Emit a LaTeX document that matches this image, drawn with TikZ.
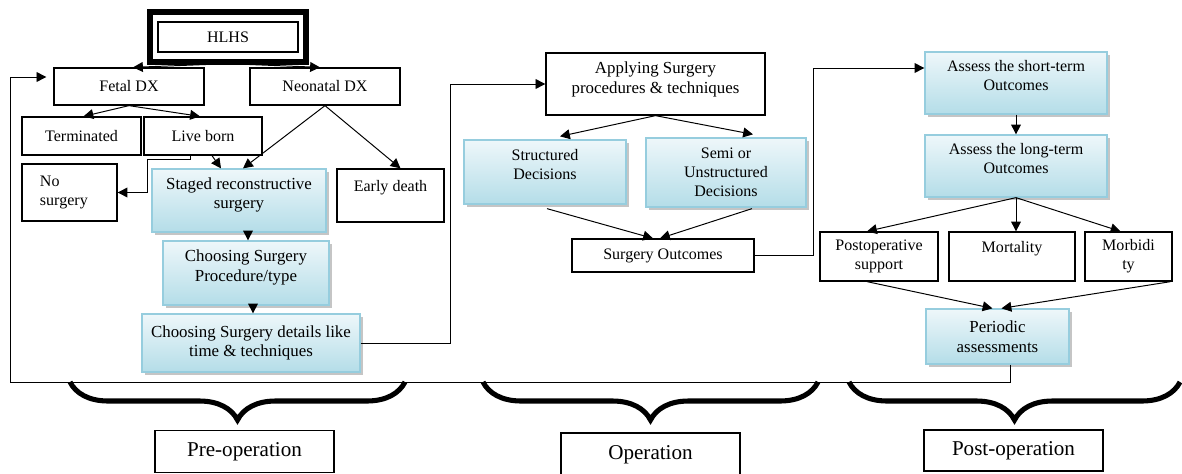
\documentclass[tikz,border=0pt]{standalone}
\usepackage{fontspec}
\setmainfont{Liberation Serif}
\usetikzlibrary{calc}
\usetikzlibrary{arrows.meta}
\usetikzlibrary{shadows}
\usetikzlibrary{decorations.pathreplacing}

\definecolor{boxtop}{RGB}{238,247,250}
\definecolor{boxbot}{RGB}{180,221,232}
\definecolor{boxline}{RGB}{150,205,222}

\begin{document}
\begin{tikzpicture}[x=0.025cm, y=-0.025cm,
        font=\fontsize{11.4}{13.5}\selectfont,
        simplebox/.style={rectangle, draw=black, line width=0.9pt, inner sep=2pt, align=center},
        bluebox/.style={rectangle, draw=boxline, line width=0.9pt, inner sep=2pt, align=center,
            top color=boxtop, bottom color=boxbot,
            drop shadow={shadow xshift=2pt, shadow yshift=-2pt, fill=black!45, opacity=0.5}},
        big/.style={font=\fontsize{12}{14}\selectfont},
        phase/.style={simplebox, font=\fontsize{15}{17}\selectfont},
        arr/.style={line width=0.7pt, -{Triangle[length=7pt,width=7pt]}},
        curly/.style={line width=3.6pt, decorate, decoration={brace, amplitude=0.95cm}}
        ]
        \useasboundingbox (0,0) rectangle (1182,473);
        % pre-operation
        \node (hlhs) [simplebox, minimum width=3.5cm, minimum height=0.75cm] at (228,37) {HLHS};
        \draw[line width=4.2pt] ($(hlhs.north west)+(-7,-9)$) rectangle ($(hlhs.south east)+(7,9)$);
        \node (fetal) [simplebox, minimum width=3.75cm, minimum height=0.925cm] at (129,86.5) {Fetal DX};
        \node (neo) [simplebox, minimum width=3.75cm, minimum height=0.925cm] at (325,86.5) {Neonatal DX};
        \node (term) [simplebox, minimum width=2.975cm, minimum height=0.95cm] at (81.5,136) {Terminated};
        \node (live) [simplebox, minimum width=2.95cm, minimum height=0.95cm] at (203,136) {Live born};
        \node (nosurg) [simplebox, align=left, text width=1.475cm, inner xsep=0.45cm, minimum height=1.425cm] at (69.5,192.5) {No\\surgery};
        \node (staged) [bluebox, big, minimum width=4.35cm, minimum height=1.575cm] at (239,200.5) {Staged reconstructive\\surgery\\[-0.3em]\mbox{}};
        \node (early) [simplebox, minimum width=2.675cm, minimum height=1.325cm] at (390.5,195.5) {Early death\\\mbox{}};
        \node (proc) [bluebox, big, minimum width=4.15cm, minimum height=1.6cm] at (246,273) {Choosing Surgery\\Procedure/type\\[-0.3em]\mbox{}};
        \node (details) [bluebox, big, minimum width=5.45cm, minimum height=1.45cm] at (251,343) {Choosing Surgery details like\\time \& techniques};
        \draw[arr] ($(hlhs.south)+(0,11)$) -- ($(fetal.north)+(4,0)$);
        \draw[arr] ($(hlhs.south)+(0,11)$) -- ($(neo.north)+(-5,0)$);
        \draw[arr] (fetal.south) -- ($(term.north)+(2,0)$);
        \draw[arr] (fetal.south) -- ($(live.north)+(-3,0)$);
        \draw[arr] ($(live.south)+(-13,0)$) -- ++(0,4) -| (147,192.5) -- (nosurg.east);
        \draw[arr] ($(live.south)+(9,0)$) -- ($(staged.north)+(-18,0)$);
        \draw[arr] (neo.south) -- ($(staged.north)+(4,0)$);
        \draw[arr] (neo.south) -- ($(early.north)+(10,0)$);
        \draw[arr] ($(staged.south)+(9,0)$) -- ($(proc.north)+(2,0)$);
        \draw[arr] ($(proc.south)+(7,0)$) -- ($(details.north)+(2,0)$);
        % operation
        \node (apply) [simplebox, big, minimum width=5.475cm, minimum height=1.55cm] at (655.5,84) {Applying Surgery\\procedures \& techniques\\[-0.4em]\mbox{}};
        \node (struct) [bluebox, minimum width=4.05cm, minimum height=1.6cm] at (545,172) {Structured\\Decisions\\[-0.3em]\mbox{}};
        \node (semi) [bluebox, minimum width=4cm, minimum height=1.725cm] at (726,172.5) {Semi or\\Unstructured\\Decisions};
        \node (outc) [simplebox, minimum width=4.55cm, minimum height=0.825cm] at (663,255.5) {Surgery Outcomes};
        \draw[arr] (details.east) -- ++(90,0) |- (apply.west);
        \draw[arr] (apply.south) -- ($(struct.north)+(15,-3)$);
        \draw[arr] (apply.south) -- ($(semi.north)+(27,-3)$);
        \draw[arr] ($(struct.south)+(2,4)$) -- ($(outc.north)+(-10,0)$);
        \draw[arr] ($(semi.south)+(26,1)$) -- ($(outc.north)+(-3,0)$);
        % post-operation
        \node (short) [bluebox, minimum width=4.55cm, minimum height=1.55cm] at (1016,83) {Assess the short-term\\Outcomes\\[-0.3em]\mbox{}};
        \node (long) [bluebox, minimum width=4.55cm, minimum height=1.55cm] at (1016,166) {Assess the long-term\\Outcomes\\[-0.3em]\mbox{}};
        \node (post) [simplebox, minimum width=2.95cm, minimum height=1.225cm] at (879,256.5) {Postoperative\\support};
        \node (mort) [simplebox, minimum width=3.15cm, minimum height=1.225cm] at (1012,256.5) {Mortality\\\mbox{}};
        \node (morb) [simplebox, minimum width=2.175cm, minimum height=1.225cm] at (1128.5,256.5) {Morbidi\\ty};
        \node (period) [bluebox, big, minimum width=3.575cm, minimum height=1.375cm] at (997.5,336.5) {Periodic\\assessments};
        \draw[arr] (outc.east) -- ++(59,0) |- ($(short.west)+(0,-15)$);
        \draw[arr] (short.south) -- (long.north);
        \draw[arr] (long.south) -- ($(post.north)+(-12,0)$);
        \draw[arr] (long.south) -- (long.south |- mort.north);
        \draw[arr] (long.south) -- ($(morb.north)+(-8,0)$);
        \draw[arr] ($(post.south)+(-12,0)$) -- ($(period.north)+(-5,0)$);
        \draw[arr] ($(morb.south east)+(-2,0)$) -- ($(period.north)+(4,0)$);
        % back to the start
        \draw[arr] ($(period.south)+(12.5,0)$) -- ++(0,18) -| (10,77) -- ($(fetal.west)+(-7,-9.5)$);
        % phases
        \draw[curly] (405,382) -- (70,382);
        \draw[curly] (818,382) -- (483,382);
        \draw[curly] (1180,382) -- (849,382);
        \node (prelab) [phase, minimum width=4.475cm, minimum height=1.05cm] at (244.5,451.5) {Pre-operation};
        \node (oplab) [phase, minimum width=4.475cm, minimum height=1.1cm] at (650.5,455) {Operation};
        \node (postlab) [phase, minimum width=4.475cm, minimum height=1.025cm] at (1013.5,450.5) {Post-operation};
    \end{tikzpicture}
\end{document}
